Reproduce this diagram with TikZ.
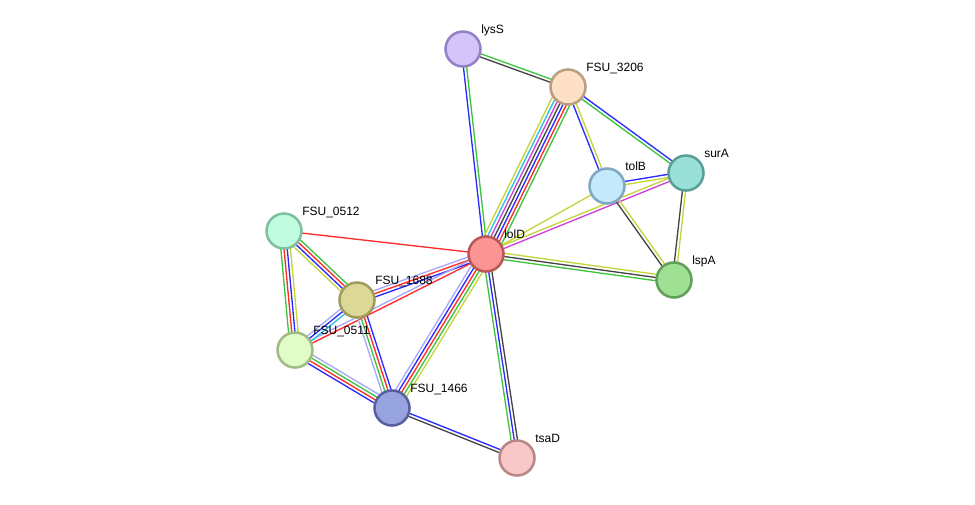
\documentclass[tikz,border=0pt]{standalone}
\usepackage{fontspec}
\setmainfont{Liberation Sans}
\usetikzlibrary{calc,backgrounds}
\definecolor{nb}{HTML}{3CC43C}
\definecolor{fu}{HTML}{FF2A2A}
\definecolor{co}{HTML}{2A2AFF}
\definecolor{ce}{HTML}{444444}
\definecolor{tm}{HTML}{C4D43A}
\definecolor{db}{HTML}{2AC0E0}
\definecolor{ex}{HTML}{D040D8}
\definecolor{ho}{HTML}{A8A8F8}
\tikzset{
  prot/.style={circle, minimum size=26.25pt, inner sep=0pt, line width=1.9pt},
  lbl/.style={anchor=base west, font=\fontsize{9}{10}\selectfont, inner sep=0pt},
  evline/.style={line width=1pt}
}
\newcommand\stredge[4]{%
  \foreach \c [count=\i] in {#4} {%
    \pgfmathsetmacro\o{(\i-(#3+1)/2)*2.4}%
    \draw[evline, \c] ($(#1)!\o pt!90:(#2)$) -- ($(#2)!\o pt!-90:(#1)$);
  }%
}
\begin{document}
\begin{tikzpicture}[x=0.75pt, y=-0.75pt]
\useasboundingbox (0,0) rectangle (975,504);
\node[prot, fill={rgb,255:red,212;green,196;blue,250}, draw={rgb,255:red,148;green,130;blue,200}] (lysS) at (463,49) {};
\node[prot, fill={rgb,255:red,254;green,224;blue,198}, draw={rgb,255:red,186;green,158;blue,128}] (f3206) at (568,87) {};
\node[prot, fill={rgb,255:red,152;green,224;blue,216}, draw={rgb,255:red,90;green,158;blue,152}] (surA) at (686,173) {};
\node[prot, fill={rgb,255:red,196;green,232;blue,252}, draw={rgb,255:red,128;green,168;blue,192}] (tolB) at (607,186) {};
\node[prot, fill={rgb,255:red,252;green,148;blue,148}, draw={rgb,255:red,186;green,88;blue,88}] (lolD) at (486,254) {};
\node[prot, fill={rgb,255:red,160;green,224;blue,148}, draw={rgb,255:red,96;green,160;blue,88}] (lspA) at (674,280) {};
\node[prot, fill={rgb,255:red,192;green,252;blue,224}, draw={rgb,255:red,128;green,192;blue,160}] (f0512) at (284,231) {};
\node[prot, fill={rgb,255:red,220;green,216;blue,152}, draw={rgb,255:red,160;green,156;blue,92}] (f1688) at (357,300) {};
\node[prot, fill={rgb,255:red,224;green,252;blue,200}, draw={rgb,255:red,160;green,188;blue,132}] (f0511) at (295,350) {};
\node[prot, fill={rgb,255:red,152;green,164;blue,224}, draw={rgb,255:red,88;green,96;blue,160}] (f1466) at (392,408) {};
\node[prot, fill={rgb,255:red,248;green,200;blue,200}, draw={rgb,255:red,184;green,136;blue,136}] (tsaD) at (517,458) {};

\begin{scope}[on background layer]
\stredge{lysS}{f3206}{2}{ce,nb}
\stredge{lysS}{lolD}{2}{co,nb}
\stredge{f3206}{lolD}{7}{tm,db,ex,ce,co,fu,nb}
\stredge{f3206}{tolB}{2}{co,tm}
\stredge{f3206}{surA}{2}{nb,co}
\stredge{tolB}{surA}{2}{tm,co}
\stredge{lolD}{tolB}{1}{tm}
\stredge{lolD}{surA}{2}{ex,tm}
\stredge{tolB}{lspA}{2}{ce,tm}
\stredge{surA}{lspA}{2}{ce,tm}
\stredge{lolD}{lspA}{3}{nb,ce,tm}
\stredge{lolD}{tsaD}{3}{nb,co,ce}
\stredge{lolD}{f1466}{5}{ho,co,fu,nb,tm}
\stredge{lolD}{f1688}{3}{ho,fu,co}
\stredge{lolD}{f0511}{2}{ho,fu}
\stredge{lolD}{f0512}{1}{fu}
\stredge{f0512}{f1688}{4}{tm,co,fu,nb}
\stredge{f0512}{f0511}{4}{nb,fu,co,tm}
\stredge{f1688}{f0511}{3}{ho,co,db}
\stredge{f0511}{f1466}{4}{co,fu,nb,ho}
\stredge{f1688}{f1466}{4}{ho,nb,fu,co}
\stredge{f1466}{tsaD}{2}{ce,co}
\end{scope}

\node[lbl] (lysS-l) at ($(lysS)+(18,-16)$) {lysS};
\node[lbl] (f3206-l) at ($(f3206)+(18,-16)$) {FSU\_3206};
\node[lbl] (surA-l) at ($(surA)+(18,-16)$) {surA};
\node[lbl] (tolB-l) at ($(tolB)+(18,-16)$) {tolB};
\node[lbl] (lolD-l) at ($(lolD)+(18,-16)$) {lolD};
\node[lbl] (lspA-l) at ($(lspA)+(18,-16)$) {lspA};
\node[lbl] (f0512-l) at ($(f0512)+(18,-16)$) {FSU\_0512};
\node[lbl] (f1688-l) at ($(f1688)+(18,-16)$) {FSU\_1688};
\node[lbl] (f0511-l) at ($(f0511)+(18,-16)$) {FSU\_0511};
\node[lbl] (f1466-l) at ($(f1466)+(18,-16)$) {FSU\_1466};
\node[lbl] (tsaD-l) at ($(tsaD)+(18,-16)$) {tsaD};
\end{tikzpicture}
\end{document}
